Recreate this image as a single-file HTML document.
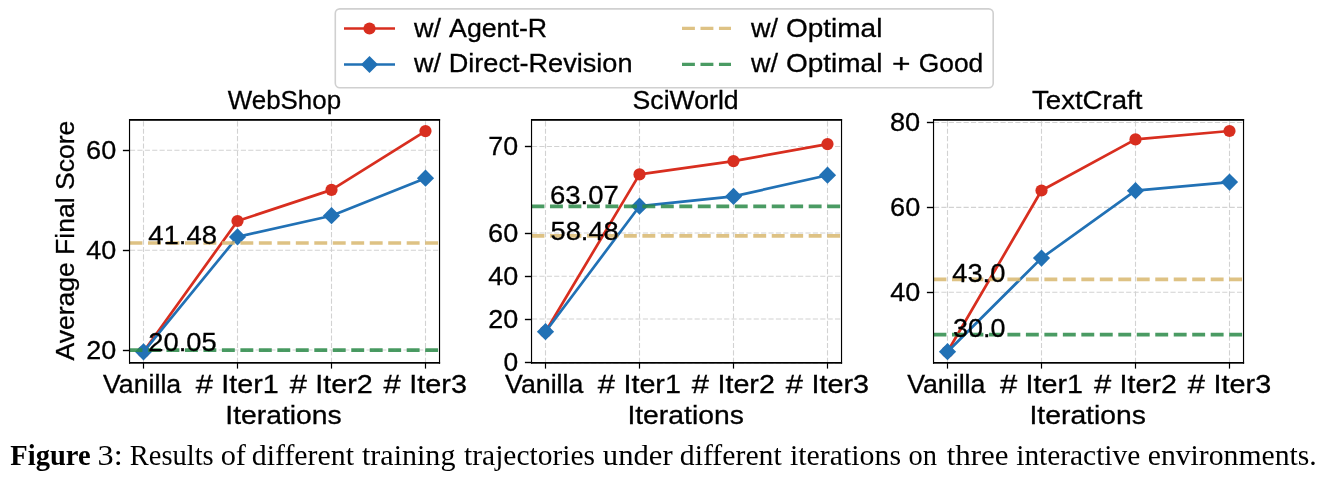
<!DOCTYPE html>
<html><head><meta charset="utf-8"><style>html,body{margin:0;padding:0;background:#fff;overflow:hidden}svg{display:block;will-change:transform}</style></head>
<body><svg width="1323" height="482" viewBox="0 0 1323 482">
<rect width="1323" height="482" fill="#fff"/>
<line x1="143.50" y1="362.9" x2="143.50" y2="119.9" stroke="#d2d2d2" stroke-width="1.1" stroke-dasharray="5.16 2.23"/>
<line x1="237.50" y1="362.9" x2="237.50" y2="119.9" stroke="#d2d2d2" stroke-width="1.1" stroke-dasharray="5.16 2.23"/>
<line x1="331.50" y1="362.9" x2="331.50" y2="119.9" stroke="#d2d2d2" stroke-width="1.1" stroke-dasharray="5.16 2.23"/>
<line x1="425.50" y1="362.9" x2="425.50" y2="119.9" stroke="#d2d2d2" stroke-width="1.1" stroke-dasharray="5.16 2.23"/>
<line x1="130.0" y1="350.0" x2="439.50" y2="350.0" stroke="#d2d2d2" stroke-width="1.1" stroke-dasharray="5.16 2.23"/>
<line x1="130.0" y1="250.25" x2="439.50" y2="250.25" stroke="#d2d2d2" stroke-width="1.1" stroke-dasharray="5.16 2.23"/>
<line x1="130.0" y1="150.25" x2="439.50" y2="150.25" stroke="#d2d2d2" stroke-width="1.1" stroke-dasharray="5.16 2.23"/>
<polyline points="143.50,351.80 237.50,221.00 331.50,189.90 425.50,131.10" fill="none" stroke="#d82e1f" stroke-width="2.7" stroke-linejoin="round"/>
<circle cx="143.50" cy="351.80" r="6.1" fill="#d82e1f"/>
<circle cx="237.50" cy="221.00" r="6.1" fill="#d82e1f"/>
<circle cx="331.50" cy="189.90" r="6.1" fill="#d82e1f"/>
<circle cx="425.50" cy="131.10" r="6.1" fill="#d82e1f"/>
<polyline points="143.50,351.80 237.50,236.90 331.50,215.70 425.50,178.20" fill="none" stroke="#2171b5" stroke-width="2.7" stroke-linejoin="round"/>
<path d="M143.50 343.20L152.10 351.80L143.50 360.40L134.90 351.80Z" fill="#2171b5"/>
<path d="M237.50 228.30L246.10 236.90L237.50 245.50L228.90 236.90Z" fill="#2171b5"/>
<path d="M331.50 207.10L340.10 215.70L331.50 224.30L322.90 215.70Z" fill="#2171b5"/>
<path d="M425.50 169.60L434.10 178.20L425.50 186.80L416.90 178.20Z" fill="#2171b5"/>
<line x1="129.5" y1="243.0" x2="439.50" y2="243.0" stroke="#d8b76e" stroke-opacity="0.85" stroke-width="3.7" stroke-dasharray="12.9 5.58"/>
<line x1="129.5" y1="350.1" x2="439.50" y2="350.1" stroke="#2a8a48" stroke-opacity="0.85" stroke-width="3.7" stroke-dasharray="12.9 5.58"/>
<rect x="129" y="119" width="311.1" height="1.8" fill="#000"/>
<rect x="129" y="362" width="311.1" height="1.7" fill="#000"/>
<rect x="128.95" y="119" width="1.15" height="244.7" fill="#000"/>
<rect x="438.95" y="119" width="1.15" height="244.7" fill="#000"/>
<rect x="142.9" y="363" width="1.2" height="5.6" fill="#000"/>
<rect x="236.9" y="363" width="1.2" height="5.6" fill="#000"/>
<rect x="330.9" y="363" width="1.2" height="5.6" fill="#000"/>
<rect x="424.9" y="363" width="1.2" height="5.6" fill="#000"/>
<rect x="122.90" y="349.80" width="6.2" height="1.4" fill="#000"/>
<rect x="122.90" y="249.80" width="6.2" height="1.4" fill="#000"/>
<rect x="122.90" y="149.80" width="6.2" height="1.4" fill="#000"/>
<line x1="545.50" y1="362.9" x2="545.50" y2="119.9" stroke="#d2d2d2" stroke-width="1.1" stroke-dasharray="5.16 2.23"/>
<line x1="639.50" y1="362.9" x2="639.50" y2="119.9" stroke="#d2d2d2" stroke-width="1.1" stroke-dasharray="5.16 2.23"/>
<line x1="733.50" y1="362.9" x2="733.50" y2="119.9" stroke="#d2d2d2" stroke-width="1.1" stroke-dasharray="5.16 2.23"/>
<line x1="827.50" y1="362.9" x2="827.50" y2="119.9" stroke="#d2d2d2" stroke-width="1.1" stroke-dasharray="5.16 2.23"/>
<line x1="532.0" y1="362.9" x2="841.50" y2="362.9" stroke="#d2d2d2" stroke-width="1.1" stroke-dasharray="5.16 2.23"/>
<line x1="532.0" y1="319.0" x2="841.50" y2="319.0" stroke="#d2d2d2" stroke-width="1.1" stroke-dasharray="5.16 2.23"/>
<line x1="532.0" y1="276.2" x2="841.50" y2="276.2" stroke="#d2d2d2" stroke-width="1.1" stroke-dasharray="5.16 2.23"/>
<line x1="532.0" y1="233.0" x2="841.50" y2="233.0" stroke="#d2d2d2" stroke-width="1.1" stroke-dasharray="5.16 2.23"/>
<line x1="532.0" y1="146.5" x2="841.50" y2="146.5" stroke="#d2d2d2" stroke-width="1.1" stroke-dasharray="5.16 2.23"/>
<polyline points="545.50,331.70 639.50,174.40 733.50,161.10 827.50,144.10" fill="none" stroke="#d82e1f" stroke-width="2.7" stroke-linejoin="round"/>
<circle cx="545.50" cy="331.70" r="6.1" fill="#d82e1f"/>
<circle cx="639.50" cy="174.40" r="6.1" fill="#d82e1f"/>
<circle cx="733.50" cy="161.10" r="6.1" fill="#d82e1f"/>
<circle cx="827.50" cy="144.10" r="6.1" fill="#d82e1f"/>
<polyline points="545.50,331.70 639.50,206.20 733.50,196.40 827.50,175.20" fill="none" stroke="#2171b5" stroke-width="2.7" stroke-linejoin="round"/>
<path d="M545.50 323.10L554.10 331.70L545.50 340.30L536.90 331.70Z" fill="#2171b5"/>
<path d="M639.50 197.60L648.10 206.20L639.50 214.80L630.90 206.20Z" fill="#2171b5"/>
<path d="M733.50 187.80L742.10 196.40L733.50 205.00L724.90 196.40Z" fill="#2171b5"/>
<path d="M827.50 166.60L836.10 175.20L827.50 183.80L818.90 175.20Z" fill="#2171b5"/>
<line x1="531.5" y1="235.8" x2="841.50" y2="235.8" stroke="#d8b76e" stroke-opacity="0.85" stroke-width="3.7" stroke-dasharray="12.9 5.58"/>
<line x1="531.5" y1="206.4" x2="841.50" y2="206.4" stroke="#2a8a48" stroke-opacity="0.85" stroke-width="3.7" stroke-dasharray="12.9 5.58"/>
<rect x="531" y="119" width="311.1" height="1.8" fill="#000"/>
<rect x="531" y="362" width="311.1" height="1.7" fill="#000"/>
<rect x="530.95" y="119" width="1.15" height="244.7" fill="#000"/>
<rect x="840.95" y="119" width="1.15" height="244.7" fill="#000"/>
<rect x="544.9" y="363" width="1.2" height="5.6" fill="#000"/>
<rect x="638.9" y="363" width="1.2" height="5.6" fill="#000"/>
<rect x="732.9" y="363" width="1.2" height="5.6" fill="#000"/>
<rect x="826.9" y="363" width="1.2" height="5.6" fill="#000"/>
<rect x="524.90" y="361.80" width="6.2" height="1.4" fill="#000"/>
<rect x="524.90" y="318.80" width="6.2" height="1.4" fill="#000"/>
<rect x="524.90" y="275.80" width="6.2" height="1.4" fill="#000"/>
<rect x="524.90" y="232.80" width="6.2" height="1.4" fill="#000"/>
<rect x="524.90" y="145.80" width="6.2" height="1.4" fill="#000"/>
<line x1="947.50" y1="362.9" x2="947.50" y2="119.9" stroke="#d2d2d2" stroke-width="1.1" stroke-dasharray="5.16 2.23"/>
<line x1="1041.50" y1="362.9" x2="1041.50" y2="119.9" stroke="#d2d2d2" stroke-width="1.1" stroke-dasharray="5.16 2.23"/>
<line x1="1135.50" y1="362.9" x2="1135.50" y2="119.9" stroke="#d2d2d2" stroke-width="1.1" stroke-dasharray="5.16 2.23"/>
<line x1="1229.50" y1="362.9" x2="1229.50" y2="119.9" stroke="#d2d2d2" stroke-width="1.1" stroke-dasharray="5.16 2.23"/>
<line x1="934.0" y1="292.2" x2="1243.50" y2="292.2" stroke="#d2d2d2" stroke-width="1.1" stroke-dasharray="5.16 2.23"/>
<line x1="934.0" y1="207.4" x2="1243.50" y2="207.4" stroke="#d2d2d2" stroke-width="1.1" stroke-dasharray="5.16 2.23"/>
<line x1="934.0" y1="122.5" x2="1243.50" y2="122.5" stroke="#d2d2d2" stroke-width="1.1" stroke-dasharray="5.16 2.23"/>
<polyline points="947.50,351.70 1041.50,190.50 1135.50,139.40 1229.50,131.00" fill="none" stroke="#d82e1f" stroke-width="2.7" stroke-linejoin="round"/>
<circle cx="947.50" cy="351.70" r="6.1" fill="#d82e1f"/>
<circle cx="1041.50" cy="190.50" r="6.1" fill="#d82e1f"/>
<circle cx="1135.50" cy="139.40" r="6.1" fill="#d82e1f"/>
<circle cx="1229.50" cy="131.00" r="6.1" fill="#d82e1f"/>
<polyline points="947.50,351.70 1041.50,258.10 1135.50,190.70 1229.50,182.10" fill="none" stroke="#2171b5" stroke-width="2.7" stroke-linejoin="round"/>
<path d="M947.50 343.10L956.10 351.70L947.50 360.30L938.90 351.70Z" fill="#2171b5"/>
<path d="M1041.50 249.50L1050.10 258.10L1041.50 266.70L1032.90 258.10Z" fill="#2171b5"/>
<path d="M1135.50 182.10L1144.10 190.70L1135.50 199.30L1126.90 190.70Z" fill="#2171b5"/>
<path d="M1229.50 173.50L1238.10 182.10L1229.50 190.70L1220.90 182.10Z" fill="#2171b5"/>
<line x1="933.5" y1="279.4" x2="1243.50" y2="279.4" stroke="#d8b76e" stroke-opacity="0.85" stroke-width="3.7" stroke-dasharray="12.9 5.58"/>
<line x1="933.5" y1="334.7" x2="1243.50" y2="334.7" stroke="#2a8a48" stroke-opacity="0.85" stroke-width="3.7" stroke-dasharray="12.9 5.58"/>
<rect x="933" y="119" width="311.1" height="1.8" fill="#000"/>
<rect x="933" y="362" width="311.1" height="1.7" fill="#000"/>
<rect x="932.95" y="119" width="1.15" height="244.7" fill="#000"/>
<rect x="1242.95" y="119" width="1.15" height="244.7" fill="#000"/>
<rect x="946.9" y="363" width="1.2" height="5.6" fill="#000"/>
<rect x="1040.9" y="363" width="1.2" height="5.6" fill="#000"/>
<rect x="1134.9" y="363" width="1.2" height="5.6" fill="#000"/>
<rect x="1228.9" y="363" width="1.2" height="5.6" fill="#000"/>
<rect x="926.90" y="291.80" width="6.2" height="1.4" fill="#000"/>
<rect x="926.90" y="206.80" width="6.2" height="1.4" fill="#000"/>
<rect x="926.90" y="121.80" width="6.2" height="1.4" fill="#000"/>
<rect x="335.3" y="8.85" width="657.9" height="78.85" rx="4.5" ry="4.5" fill="#fff" fill-opacity="0.8" stroke="#d0d0d0" stroke-width="1.6"/>
<line x1="344" y1="28.5" x2="395" y2="28.5" stroke="#d82e1f" stroke-width="2.6"/>
<circle cx="369.5" cy="28.5" r="6.1" fill="#d82e1f"/>
<line x1="344" y1="64.5" x2="395" y2="64.5" stroke="#2171b5" stroke-width="2.6"/>
<path d="M369.5 56L378 64.5L369.5 73L361 64.5Z" fill="#2171b5"/>
<line x1="682" y1="28.4" x2="731" y2="28.4" stroke="#d8b76e" stroke-opacity="0.85" stroke-width="3.1" stroke-dasharray="12.9 5.58"/>
<line x1="682" y1="64.4" x2="731" y2="64.4" stroke="#2a8a48" stroke-opacity="0.85" stroke-width="3.1" stroke-dasharray="12.9 5.58"/>
<g fill="#000" stroke="#000" stroke-width="0.3">
<text transform="translate(86.20,358.54) scale(1.0418,0.9936)" font-size="25.87" font-family="Liberation Sans" font-weight="normal">20</text>
<text transform="translate(86.21,258.79) scale(1.0416,0.9936)" font-size="25.87" font-family="Liberation Sans" font-weight="normal">40</text>
<text transform="translate(86.10,158.79) scale(1.0456,0.9936)" font-size="25.87" font-family="Liberation Sans" font-weight="normal">60</text>
<text transform="translate(227.80,108.90) scale(1.0011,1)" font-size="25.87" font-family="Liberation Sans" font-weight="normal">WebShop</text>
<text transform="translate(148.29,243.70) scale(1.0631,0.9854)" font-size="25.87" font-family="Liberation Sans" font-weight="normal">41.48</text>
<text transform="translate(148.33,350.84) scale(1.0569,0.9881)" font-size="25.87" font-family="Liberation Sans" font-weight="normal">20.05</text>
<text transform="translate(102.95,392.80) scale(1.0342,1)" font-size="25.87" font-family="Liberation Sans" font-weight="normal">Vanilla</text>
<text transform="translate(195.68,392.80) scale(1.1990,1)" font-size="25.87" font-family="Liberation Sans" font-weight="normal">#</text>
<text transform="translate(221.36,392.80) scale(1.1097,1)" font-size="25.87" font-family="Liberation Sans" font-weight="normal">Iter1</text>
<text transform="translate(289.68,392.80) scale(1.1990,1)" font-size="25.87" font-family="Liberation Sans" font-weight="normal">#</text>
<text transform="translate(315.36,392.80) scale(1.1088,1)" font-size="25.87" font-family="Liberation Sans" font-weight="normal">Iter2</text>
<text transform="translate(383.58,392.80) scale(1.1990,1)" font-size="25.87" font-family="Liberation Sans" font-weight="normal">#</text>
<text transform="translate(409.35,392.80) scale(1.1135,1)" font-size="25.87" font-family="Liberation Sans" font-weight="normal">Iter3</text>
<text transform="translate(225.30,424.00) scale(1.0938,1)" font-size="25.87" font-family="Liberation Sans" font-weight="normal">Iterations</text>
<text transform="translate(503.50,371.44) scale(1.0189,0.9936)" font-size="25.87" font-family="Liberation Sans" font-weight="normal">0</text>
<text transform="translate(488.20,327.54) scale(1.0418,0.9936)" font-size="25.87" font-family="Liberation Sans" font-weight="normal">20</text>
<text transform="translate(488.21,284.74) scale(1.0416,0.9936)" font-size="25.87" font-family="Liberation Sans" font-weight="normal">40</text>
<text transform="translate(488.10,241.54) scale(1.0456,0.9936)" font-size="25.87" font-family="Liberation Sans" font-weight="normal">60</text>
<text transform="translate(488.36,155.04) scale(1.0363,0.9936)" font-size="25.87" font-family="Liberation Sans" font-weight="normal">70</text>
<text transform="translate(632.58,108.90) scale(1.0292,1)" font-size="25.87" font-family="Liberation Sans" font-weight="normal">SciWorld</text>
<text transform="translate(550.02,203.74) scale(1.0636,1.0045)" font-size="25.87" font-family="Liberation Sans" font-weight="normal">63.07</text>
<text transform="translate(550.51,239.64) scale(1.0534,0.9990)" font-size="25.87" font-family="Liberation Sans" font-weight="normal">58.48</text>
<text transform="translate(505.05,392.80) scale(1.0342,1)" font-size="25.87" font-family="Liberation Sans" font-weight="normal">Vanilla</text>
<text transform="translate(597.78,392.80) scale(1.1990,1)" font-size="25.87" font-family="Liberation Sans" font-weight="normal">#</text>
<text transform="translate(623.46,392.80) scale(1.1097,1)" font-size="25.87" font-family="Liberation Sans" font-weight="normal">Iter1</text>
<text transform="translate(691.78,392.80) scale(1.1990,1)" font-size="25.87" font-family="Liberation Sans" font-weight="normal">#</text>
<text transform="translate(717.46,392.80) scale(1.1088,1)" font-size="25.87" font-family="Liberation Sans" font-weight="normal">Iter2</text>
<text transform="translate(785.68,392.80) scale(1.1990,1)" font-size="25.87" font-family="Liberation Sans" font-weight="normal">#</text>
<text transform="translate(811.45,392.80) scale(1.1135,1)" font-size="25.87" font-family="Liberation Sans" font-weight="normal">Iter3</text>
<text transform="translate(627.40,424.00) scale(1.0938,1)" font-size="25.87" font-family="Liberation Sans" font-weight="normal">Iterations</text>
<text transform="translate(890.21,300.74) scale(1.0416,0.9936)" font-size="25.87" font-family="Liberation Sans" font-weight="normal">40</text>
<text transform="translate(890.10,215.94) scale(1.0456,0.9936)" font-size="25.87" font-family="Liberation Sans" font-weight="normal">60</text>
<text transform="translate(889.95,131.04) scale(1.0507,0.9936)" font-size="25.87" font-family="Liberation Sans" font-weight="normal">80</text>
<text transform="translate(1032.09,108.90) scale(1.0655,1)" font-size="25.87" font-family="Liberation Sans" font-weight="normal">TextCraft</text>
<text transform="translate(952.20,281.74) scale(1.0575,0.9881)" font-size="25.87" font-family="Liberation Sans" font-weight="normal">43.0</text>
<text transform="translate(952.98,336.74) scale(1.0417,1.0045)" font-size="25.87" font-family="Liberation Sans" font-weight="normal">30.0</text>
<text transform="translate(907.15,392.80) scale(1.0342,1)" font-size="25.87" font-family="Liberation Sans" font-weight="normal">Vanilla</text>
<text transform="translate(999.88,392.80) scale(1.1990,1)" font-size="25.87" font-family="Liberation Sans" font-weight="normal">#</text>
<text transform="translate(1025.56,392.80) scale(1.1097,1)" font-size="25.87" font-family="Liberation Sans" font-weight="normal">Iter1</text>
<text transform="translate(1093.88,392.80) scale(1.1990,1)" font-size="25.87" font-family="Liberation Sans" font-weight="normal">#</text>
<text transform="translate(1119.56,392.80) scale(1.1088,1)" font-size="25.87" font-family="Liberation Sans" font-weight="normal">Iter2</text>
<text transform="translate(1187.78,392.80) scale(1.1990,1)" font-size="25.87" font-family="Liberation Sans" font-weight="normal">#</text>
<text transform="translate(1213.55,392.80) scale(1.1135,1)" font-size="25.87" font-family="Liberation Sans" font-weight="normal">Iter3</text>
<text transform="translate(1029.50,424.00) scale(1.0938,1)" font-size="25.87" font-family="Liberation Sans" font-weight="normal">Iterations</text>
<text transform="translate(74.3,360.55) rotate(-90) scale(1.0256,1)" font-size="25.87" font-family="Liberation Sans">Average Final Score</text>
<text transform="translate(414.05,36.80) scale(1.0454,1)" font-size="25.87" font-family="Liberation Sans" font-weight="normal">w/</text>
<text transform="translate(449.05,36.80) scale(1.0336,1)" font-size="25.87" font-family="Liberation Sans" font-weight="normal">Agent-R</text>
<text transform="translate(414.05,71.50) scale(1.0454,1)" font-size="25.87" font-family="Liberation Sans" font-weight="normal">w/</text>
<text transform="translate(448.68,71.50) scale(1.0482,1)" font-size="25.87" font-family="Liberation Sans" font-weight="normal">Direct-Revision</text>
<text transform="translate(750.95,36.80) scale(1.0454,1)" font-size="25.87" font-family="Liberation Sans" font-weight="normal">w/</text>
<text transform="translate(785.96,36.80) scale(1.0823,1)" font-size="25.87" font-family="Liberation Sans" font-weight="normal">Optimal</text>
<text transform="translate(750.95,71.50) scale(1.0454,1)" font-size="25.87" font-family="Liberation Sans" font-weight="normal">w/</text>
<text transform="translate(785.96,71.50) scale(1.0823,1)" font-size="25.87" font-family="Liberation Sans" font-weight="normal">Optimal</text>
<text transform="translate(891.88,71.50) scale(1.2248,1)" font-size="25.87" font-family="Liberation Sans" font-weight="normal">+</text>
<text transform="translate(918.78,71.50) scale(1.0193,1)" font-size="25.87" font-family="Liberation Sans" font-weight="normal">Good</text>
</g>
<g fill="#000">
<text transform="translate(10.29,464.80) scale(1.0043,1)" font-size="28.40" font-family="Liberation Serif" font-weight="bold">Figure</text>
<text transform="translate(97.55,464.80) scale(1.1358,1)" font-size="28.40" font-family="Liberation Serif" font-weight="normal">3:</text>
<text transform="translate(129.70,464.80) scale(1.0044,1)" font-size="28.40" font-family="Liberation Serif" font-weight="normal">Results</text>
<text transform="translate(220.64,464.80) scale(1.0706,1)" font-size="28.40" font-family="Liberation Serif" font-weight="normal">of</text>
<text transform="translate(251.83,464.80) scale(1.0506,1)" font-size="28.40" font-family="Liberation Serif" font-weight="normal">different</text>
<text transform="translate(362.00,464.80) scale(1.0576,1)" font-size="28.40" font-family="Liberation Serif" font-weight="normal">training</text>
<text transform="translate(464.11,464.80) scale(1.0374,1)" font-size="28.40" font-family="Liberation Serif" font-weight="normal">trajectories</text>
<text transform="translate(602.87,464.80) scale(1.0796,1)" font-size="28.40" font-family="Liberation Serif" font-weight="normal">under</text>
<text transform="translate(679.83,464.80) scale(1.0485,1)" font-size="28.40" font-family="Liberation Serif" font-weight="normal">different</text>
<text transform="translate(790.00,464.80) scale(1.0509,1)" font-size="28.40" font-family="Liberation Serif" font-weight="normal">iterations</text>
<text transform="translate(908.42,464.80) scale(1.0014,1)" font-size="28.40" font-family="Liberation Serif" font-weight="normal">on</text>
<text transform="translate(946.69,464.80) scale(1.0903,1)" font-size="28.40" font-family="Liberation Serif" font-weight="normal">three</text>
<text transform="translate(1016.21,464.80) scale(1.0355,1)" font-size="28.40" font-family="Liberation Serif" font-weight="normal">interactive</text>
<text transform="translate(1147.71,464.80) scale(1.0455,1)" font-size="28.40" font-family="Liberation Serif" font-weight="normal">environments.</text>
</g>
</svg></body></html>
